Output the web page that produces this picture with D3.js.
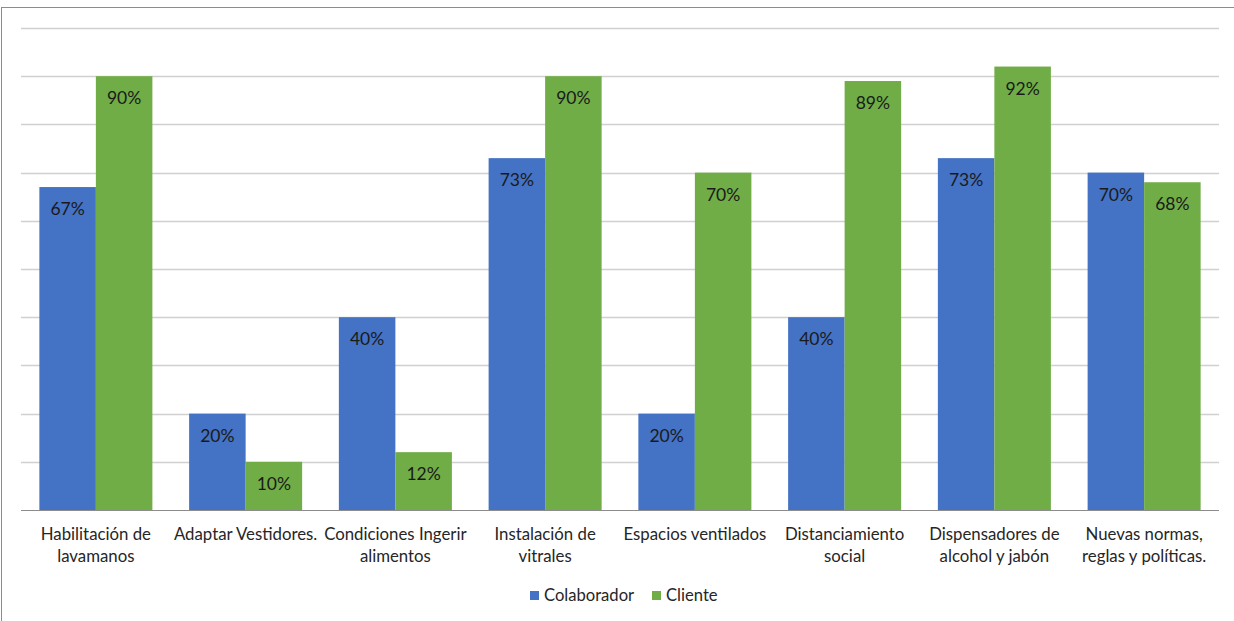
<!DOCTYPE html>
<html>
<head>
<meta charset="utf-8">
<script src="https://cdn.jsdelivr.net/npm/d3@7"></script>
<style>
  html, body { margin: 0; padding: 0; background: #fff; }
  svg { display: block; }
  text { font-family: Lato, "Liberation Sans", sans-serif; }
</style>
</head>
<body>
<svg id="chart" width="1234" height="621"></svg>
<script>
// Measures shown on the x axis (two-line labels)
const categories = [
  ["Habilitación de", "lavamanos"],
  ["Adaptar Vestidores."],
  ["Condiciones Ingerir", "alimentos"],
  ["Instalación de", "vitrales"],
  ["Espacios ventilados"],
  ["Distanciamiento", "social"],
  ["Dispensadores de", "alcohol y jabón"],
  ["Nuevas normas,", "reglas y políticas."]
];
const seriesNames = ["Colaborador", "Cliente"];
const colaborador = [67, 20, 40, 73, 20, 40, 73, 70];
const cliente = [90, 10, 12, 90, 70, 89, 92, 68];
const gridTicks = [0, 10, 20, 30, 40, 50, 60, 70, 80, 90, 100];
const colors = ["#4472C4", "#70AD47"];

const svg = d3.select("#chart");
const W = 1234, H = 621;
const plot = { left: 21, right: 1219, top: 28, bottom: 510 };

// outer frame
svg.append("rect")
  .attr("x", 1.5).attr("y", 7.5)
  .attr("width", W + 10).attr("height", H + 10)
  .attr("fill", "none").attr("stroke", "#8c8c8c").attr("stroke-width", 1);

const keys = categories.map((d, i) => i);
const x0 = d3.scaleBand().domain(keys).range([plot.left, plot.right])
  .paddingInner(0.65 / 2.65).paddingOuter(0.65 / 2.65 / 2);
const x1 = d3.scaleBand().domain([0, 1]).range([0, x0.bandwidth()]);
const y = d3.scaleLinear().domain([0, 100]).range([plot.bottom, plot.top]);

// gridlines
svg.append("g").selectAll("line")
  .data(gridTicks.filter(t => t > 0))
  .join("line")
  .attr("x1", plot.left).attr("x2", plot.right)
  .attr("y1", d => Math.round(y(d)) + 0.5).attr("y2", d => Math.round(y(d)) + 0.5)
  .attr("stroke", "#d0d0d0").attr("stroke-width", 1.5);

const rows = keys.map(i => [colaborador[i], cliente[i]]);

const groups = svg.append("g").selectAll("g")
  .data(rows)
  .join("g")
  .attr("transform", (d, i) => `translate(${x0(i)},0)`);

groups.selectAll("rect")
  .data(d => d.map((v, s) => ({ v, s })))
  .join("rect")
  .attr("x", d => x1(d.s))
  .attr("width", x1.bandwidth())
  .attr("y", d => y(d.v))
  .attr("height", d => y(0) - y(d.v))
  .attr("fill", d => colors[d.s]);

groups.selectAll("text")
  .data(d => d.map((v, s) => ({ v, s })))
  .join("text")
  .attr("x", d => x1(d.s) + x1.bandwidth() / 2)
  .attr("y", d => y(d.v) + 28)
  .attr("text-anchor", "middle")
  .attr("font-size", 17.5)
  .attr("fill", "#1a1a1a")
  .text(d => d.v + "%");

// baseline
svg.append("line")
  .attr("x1", plot.left).attr("x2", plot.right)
  .attr("y1", plot.bottom + 0.5).attr("y2", plot.bottom + 0.5)
  .attr("stroke", "#8c8c8c").attr("stroke-width", 1.2);

// category labels
const xLabels = svg.append("g").selectAll("text")
  .data(categories)
  .join("text")
  .attr("x", (d, i) => x0(i) + x0.bandwidth() / 2)
  .attr("y", 540)
  .attr("text-anchor", "middle")
  .attr("font-size", 16.8)
  .attr("fill", "#262626");
xLabels.selectAll("tspan")
  .data(d => d)
  .join("tspan")
  .attr("x", function () { return this.parentNode.getAttribute("x"); })
  .attr("dy", (d, j) => j === 0 ? 0 : 22)
  .text(d => d);

// legend
const legend = svg.append("g");
const legendX = [530, 652];
seriesNames.forEach((name, s) => {
  legend.append("rect")
    .attr("x", legendX[s]).attr("y", 591)
    .attr("width", 9).attr("height", 9)
    .attr("fill", colors[s]);
  legend.append("text")
    .attr("x", legendX[s] + 14).attr("y", 601)
    .attr("font-size", 16.6)
    .attr("fill", "#262626")
    .text(name);
});
</script>
</body>
</html>
